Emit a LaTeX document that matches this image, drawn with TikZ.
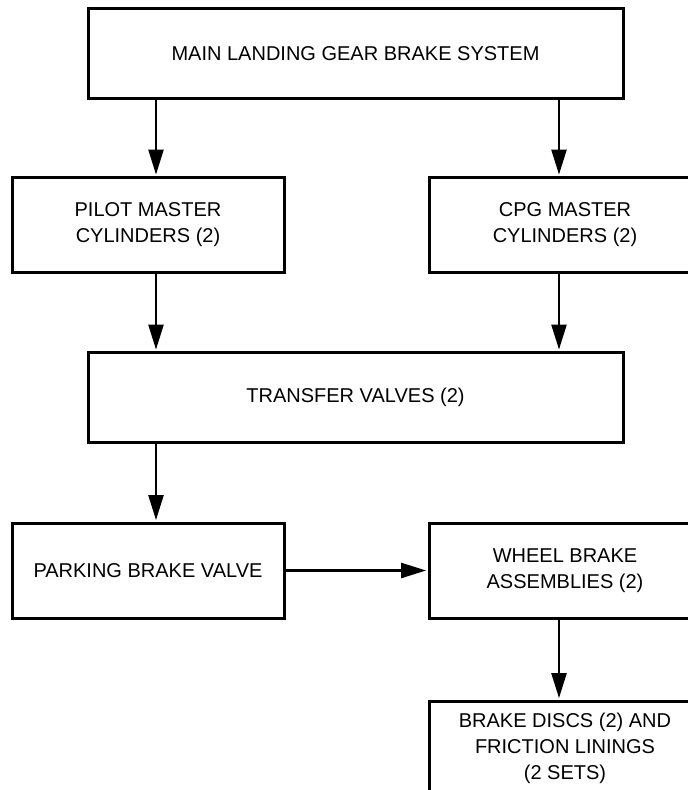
\documentclass[tikz,border=0pt]{standalone}
\usepackage{fontspec}
\setmainfont{Liberation Sans}
\usetikzlibrary{arrows.meta,positioning}

\begin{document}
\begin{tikzpicture}[x=1pt,y=-1pt,node distance=142pt,
  >={Triangle[length=25pt,width=15pt]}]
\tikzstyle{blk}=[draw,line width=3pt,inner sep=0pt,align=center,
  font=\fontsize{20pt}{26pt}\selectfont]
\tikzstyle{wide}=[blk,minimum width=535pt,minimum height=90pt]
\tikzstyle{small}=[blk,minimum width=272pt,minimum height=95pt]
\tikzstyle{link}=[->,line width=2.4pt,shorten >=1.4pt]
\useasboundingbox (0,0) rectangle (688,790);

\node[wide]  (main)     at (355.5,53.5) {MAIN LANDING GEAR BRAKE SYSTEM};
\node[small] (pilot)    at (148,225)    {PILOT MASTER\\CYLINDERS (2)};
\node[small] (cpg)      [right=of pilot] {CPG MASTER\\CYLINDERS (2)};
\node[wide]  (transfer) at (355.5,397.5) {TRANSFER VALVES (2)};
\node[small] (parking)  at (148,570.5)  {PARKING BRAKE VALVE};
\node[small] (wheel)    [right=of parking] {WHEEL BRAKE\\ASSEMBLIES (2)};
\node[small] (discs)    [below=80pt of wheel] {BRAKE DISCS (2) AND\\FRICTION LININGS\\(2 SETS)};

\coordinate (lx) at (156,0);
\coordinate (rx) at (559,0);

\draw[link] (main.south -| lx) -- (pilot.north -| lx);
\draw[link] (main.south -| rx) -- (cpg.north -| rx);
\draw[link] (pilot.south -| lx) -- (transfer.north -| lx);
\draw[link] (cpg.south -| rx) -- (transfer.north -| rx);
\draw[link] (transfer.south -| lx) -- (parking.north -| lx);
\draw[link] (parking.east) -- (wheel.west);
\draw[link] (wheel.south -| rx) -- (discs.north -| rx);
\end{tikzpicture}
\end{document}
